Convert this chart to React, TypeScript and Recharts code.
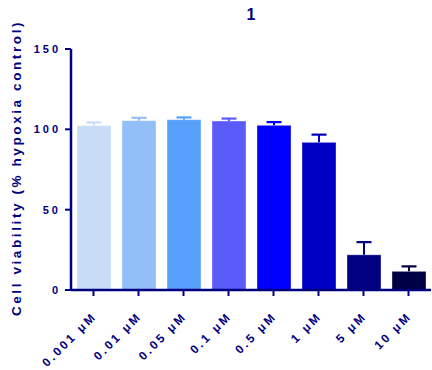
import { Bar, BarChart, Cell, Label, XAxis, YAxis } from 'recharts'

const NAVY = '#00007F'
const FONT = '"Liberation Sans", Arial, sans-serif'

const doses = ['0.001 μM', '0.01 μM', '0.05 μM', '0.1 μM', '0.5 μM', '1 μM', '5 μM', '10 μM']
const viability = [102.3, 105.4, 106.0, 105.2, 102.5, 91.9, 21.9, 11.6]
const sem = [2.0, 1.8, 1.4, 1.5, 2.0, 4.8, 7.9, 3.1]
const colors = ['#C8DCF7', '#93BFF8', '#57A0FC', '#5B5BFA', '#0000FF', '#0000C2', '#000080', '#000044']
const yTicks = [0, 50, 100, 150]

const data = doses.map((dose, i) => ({ dose, value: viability[i], err: sem[i], color: colors[i] }))

// bar plus an upward-only SEM whisker in the bar's own colour
function BarWithError(props: any) {
  const { x, y, width, height, payload } = props
  const c = payload.color
  const pxPerUnit = height / payload.value
  const top = y - payload.err * pxPerUnit
  const cx = x + width / 2
  return (
    <g>
      <rect x={x} y={y} width={width} height={height} fill={c} stroke="#ffffff" strokeOpacity={0.35} strokeWidth={1} />
      <line x1={cx} x2={cx} y1={y} y2={top} stroke={c} strokeWidth={2} />
      <line x1={cx - 7.5} x2={cx + 7.5} y1={top} y2={top} stroke={c} strokeWidth={2.2} />
    </g>
  )
}

function XTick({ x, y, payload }: any) {
  return (
    <g transform={`translate(${x + 4},${y + 19})`}>
      <text
        transform="rotate(-45)"
        textAnchor="end"
        fill={NAVY}
        fontFamily={FONT}
        fontWeight="bold"
        fontSize={12}
        style={{ letterSpacing: 2.6 }}
      >
        {payload.value}
      </text>
    </g>
  )
}

function YTick({ x, y, payload }: any) {
  return (
    <text
      x={x - 2}
      y={y}
      dy={4}
      textAnchor="end"
      fill={NAVY}
      fontFamily={FONT}
      fontWeight="bold"
      fontSize={11}
      style={{ letterSpacing: 3 }}
    >
      {payload.value}
    </text>
  )
}

export default function App() {
  return (
    <div style={{ position: 'absolute', left: 0, top: 0, background: '#fff' }}>
      <BarChart width={432} height={370} data={data} margin={{ top: 49, right: 1, bottom: 0, left: 0 }} barSize={34}>
        <text x={251} y={20} textAnchor="middle" fill={NAVY} fontFamily={FONT} fontWeight="bold" fontSize={16}>
          1
        </text>
        <XAxis
          dataKey="dose"
          height={80}
          interval={0}
          tick={<XTick />}
          tickLine={{ stroke: NAVY, strokeWidth: 2 }}
          tickSize={6}
          axisLine={{ stroke: NAVY, strokeWidth: 2.5 }}
        />
        <YAxis
          width={71}
          domain={[0, 150]}
          ticks={yTicks}
          interval={0}
          tick={<YTick />}
          tickLine={{ stroke: NAVY, strokeWidth: 2 }}
          tickSize={6}
          axisLine={{ stroke: NAVY, strokeWidth: 2.5 }}
        >
          <Label
            content={() => (
              <text
                transform="translate(21,168) rotate(-90)"
                textAnchor="middle"
                fill={NAVY}
                fontFamily={FONT}
                fontWeight="bold"
                fontSize={13.5}
                style={{ letterSpacing: 2.6 }}
              >
                Cell viability (% hypoxia control)
              </text>
            )}
          />
        </YAxis>
        <Bar dataKey="value" shape={<BarWithError />} isAnimationActive={false}>
          {data.map((d) => (
            <Cell key={d.dose} fill={d.color} />
          ))}
        </Bar>
      </BarChart>
    </div>
  )
}
